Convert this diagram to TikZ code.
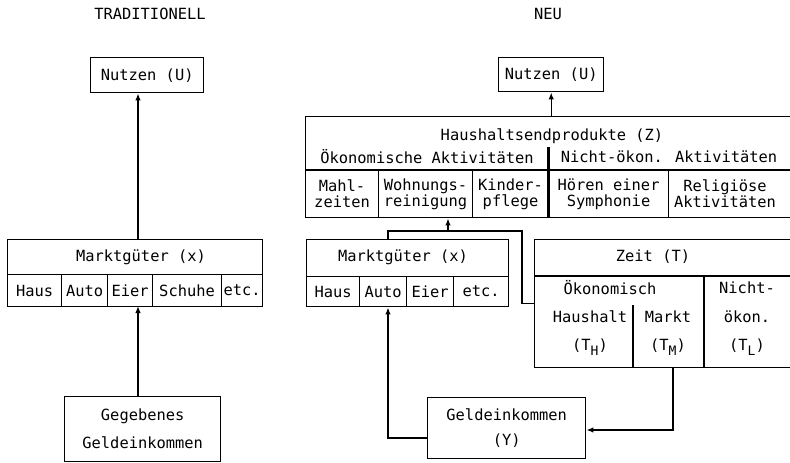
\documentclass[tikz,border=0pt]{standalone}
\usepackage{fontspec}
\newfontfamily\typew{DejaVu Sans Mono}
\usetikzlibrary{arrows.meta}

\newcommand\dropsub[1]{\raisebox{-5pt}{\fontsize{13}{13}\selectfont #1}}

\tikzset{
  lbl/.style={font=\typew\fontsize{15.4}{16}\selectfont, inner sep=0pt, align=center},
  twoline/.style={font=\typew\fontsize{15.4}{28}\selectfont},
  boxx/.style={lbl, draw, line width=1.4pt, anchor=north west},
  cell/.style={lbl, draw, line width=1.1pt, anchor=north west},
  wire/.style={line width=1.4pt},
  arr/.style={line width=1.4pt, -{Latex[length=7pt,width=5.5pt]}},
}

\begin{document}
\begin{tikzpicture}[x=1pt, y=-1pt]
\useasboundingbox (0,0) rectangle (790,463);
\clip (0,0) rectangle (790,463);

% --- traditionell
\node[lbl] (tradT) at (150,14) {TRADITIONELL};
\node[boxx, minimum width=113pt, minimum height=35pt] (nutzL) at (90,57) {Nutzen (U)};
\node[boxx, minimum width=255pt, minimum height=67pt] (markL) at (7,239) {};
\node[lbl] (markLT) at (141,257) {Marktgüter (x)};
\node[cell, minimum width=54pt, minimum height=32pt] (hausL) at (7,274) {Haus};
\node[cell, minimum width=46pt, minimum height=32pt] (autoL) at (61,274) {Auto};
\node[cell, minimum width=45pt, minimum height=32pt] (eierL) at (107,274) {Eier};
\node[cell, minimum width=69pt, minimum height=32pt] (schuhL) at (152,274) {Schuhe};
\node[cell, minimum width=41pt, minimum height=32pt] (etcL) at (221,274) {etc.};
\node[boxx, twoline, minimum width=156pt, minimum height=65pt] (gegL) at (64,396) {Gegebenes\\Geldeinkommen};

\coordinate (axL) at (138,306);
\draw[arr] (gegL.north -| axL) -- (axL);
\draw[arr] (markL.north -| axL) -- (nutzL.south -| axL);

% --- neu
\node[lbl] (neuT) at (548,14) {NEU};
\node[boxx, minimum width=105pt, minimum height=34pt] (nutzR) at (498,57) {Nutzen (U)};

\node[boxx, minimum width=487pt, minimum height=101pt] (hhZ) at (305,116) {};
\node[lbl] (hhZT) at (552,136) {Haushaltsendprodukte (Z)};
\node[lbl] (oekA) at (427,157) {Ökonomische Aktivitäten};
\node[lbl] (nichtA) at (669,157) {Nicht-ökon. Aktivitäten};
\draw[wire] (305,170) -- (792,170);
\node[cell, minimum width=73pt, minimum height=47pt] (mahl) at (305,170) {Mahl-\\zeiten};
\node[cell, minimum width=94pt, minimum height=47pt] (wohn) at (378,170) {Wohnungs-\\reinigung};
\node[cell, minimum width=76pt, minimum height=47pt] (kind) at (472,170) {Kinder-\\pflege};
\node[cell, minimum width=120pt, minimum height=47pt] (symph) at (548,170) {Hören einer\\Symphonie};
\node[lbl] (relig) at (725,194) {Religiöse\\Aktivitäten};
\draw[line width=3pt] (548,147) -- (548,217);

\node[boxx, minimum width=202pt, minimum height=67pt] (markR) at (306,239) {};
\node[lbl] (markRT) at (403,257) {Marktgüter (x)};
\node[cell, minimum width=53pt, minimum height=30pt] (hausR) at (306,276) {Haus};
\node[cell, minimum width=47pt, minimum height=30pt] (autoR) at (359,276) {Auto};
\node[cell, minimum width=47pt, minimum height=30pt] (eierR) at (406,276) {Eier};
\node[cell, minimum width=55pt, minimum height=30pt] (etcR) at (453,276) {etc.};

\node[boxx, minimum width=258pt, minimum height=128pt] (zeit) at (534,239) {};
\node[lbl] (zeitT) at (653,257) {Zeit (T)};
\draw[wire] (534,276) -- (792,276);
\draw[wire] (704,276) -- (704,367);
\draw[wire] (633,305) -- (633,367);
\node[lbl] (oekZ) at (610,288) {Ökonomisch};
\node[lbl] (hhT) at (590,317) {Haushalt};
\node[lbl] (hhS) at (590,347) {(T\dropsub{H})};
\node[lbl] (mkT) at (668,317) {Markt};
\node[lbl] (mkS) at (668,347) {(T\dropsub{M})};
\node[lbl] (nichtT) at (747,288) {Nicht-};
\node[lbl] (oekonT) at (747,317) {ökon.};
\node[lbl] (nichtS) at (747,347) {(T\dropsub{L})};

\node[boxx, font=\typew\fontsize{15.4}{25}\selectfont, minimum width=158pt, minimum height=61pt] (geld) at (427,397) {Geldeinkommen\\(Y)};

\coordinate (merge) at (448,231);
\coordinate (bend) at (522,231);
\coordinate (corner) at (388,438);
\coordinate (tmDrop) at (673,430);
\draw[wire] (markR.north -| corner) -- (corner |- merge) -- (bend) -- (bend |- zeit.west) -- (zeit.west);
\draw[arr] (merge) -- (merge |- hhZ.south);
\draw[arr] (hhZ.north -| nutzR.south) -- (nutzR.south);
\draw[arr] (geld.west |- corner) -- (corner) -- (corner |- markR.south);
\draw[arr] (zeit.south -| tmDrop) -- (tmDrop) -- (tmDrop -| geld.east);
\end{tikzpicture}
\end{document}
